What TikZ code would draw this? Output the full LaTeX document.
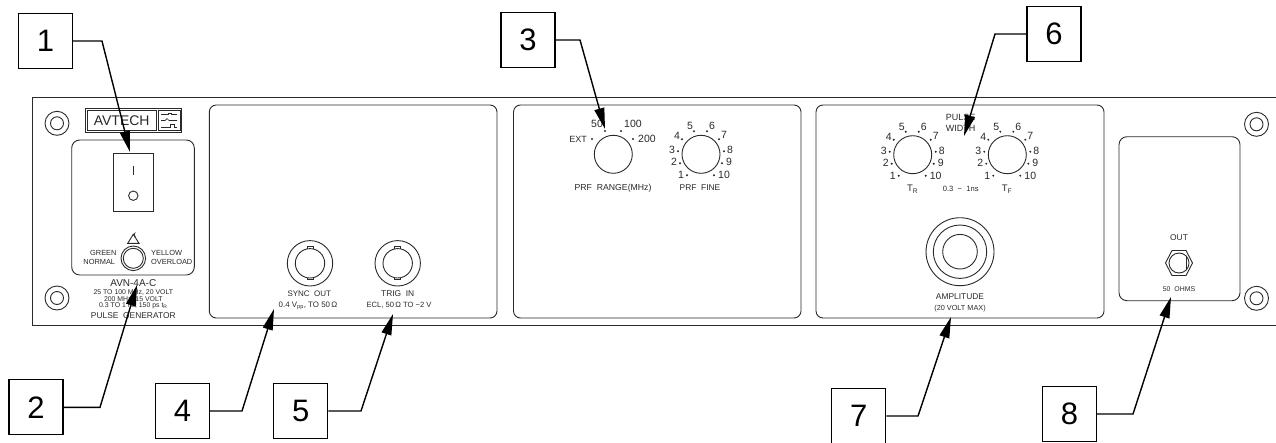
\documentclass[tikz,border=0pt]{standalone}
\usepackage{fontspec}
\setmainfont{Liberation Sans}
\usetikzlibrary{arrows.meta}
\definecolor{panel}{HTML}{2A2A2A}
\tikzset{
  x=1pt,y=-1pt,
  pl/.style={draw=panel,line width=0.9pt},
  thin panel/.style={draw=panel,line width=0.7pt},
  callout/.style={draw=black,line width=1.2pt,fill=white,minimum width=54pt,minimum height=55pt,inner sep=0pt,font=\fontsize{31}{31}\selectfont,text=black},
  lead/.style={line width=1.4pt,black,-{Triangle[length=21pt,width=10pt]}},
  tx/.style={inner sep=0pt,text=panel,font=\fontsize{8.4}{9}\selectfont},
  txm/.style={inner sep=0pt,text=panel,font=\fontsize{7.4}{9}\selectfont},
  txs/.style={inner sep=0pt,text=panel,font=\fontsize{6.9}{8}\selectfont},
  txd/.style={inner sep=0pt,text=panel,font=\fontsize{10.5}{10}\selectfont},
  tick/.style={fill=panel,draw=none},
}
\newcommand{\screwmark}[2]{\draw[pl] (#1,#2) circle[radius=12] (#1,#2) circle[radius=6.5];}
\newcommand{\dialten}[3]{%
  \draw[pl] (#2,#3) circle[radius=19];
  \foreach \n/\dx/\dy/\lx/\ly in {1/-14/21/-20/21,2/-21/9/-27/8,3/-23/-3/-29/-4,4/-19/-15/-24/-18,5/-7/-23/-11/-28,6/6/-23/11/-28,7/18/-15/23/-19,8/23/-3/29/-4,9/21/9/28/8,10/13/21/23/21}{
    \fill[tick] ({#2+\dx},{#3+\dy}) circle[radius=1.1];
    \node[txd] (#1n\n) at ({#2+\lx},{#3+\ly}) {\n};
  }}
\newcommand{\bncmark}[2]{%
  \draw[pl] (#1,#2) circle[radius=22.7] (#1,#2) circle[radius=14.7];
  \draw[thin panel] ({#1-3},{#2-14.5}) -- ({#1-3},{#2-16.5}) -- ({#1+3},{#2-16.5}) -- ({#1+3},{#2-14.5});
  \draw[thin panel] ({#1-3},{#2+14.5}) -- ({#1-3},{#2+16.5}) -- ({#1+3},{#2+16.5}) -- ({#1+3},{#2+14.5});}
\begin{document}
\begin{tikzpicture}
\clip (0,0) rectangle (1276,442);
\fill[white] (0,0) rectangle (1276,442);
% panel
\draw[pl] (1277,97.3) -- (32.7,97.3) -- (32.7,325.7) -- (1277,325.7);
\foreach \a/\b in {209.3/497,513.5/801,816/1104}{
  \draw[pl,rounded corners=7pt] (\a,105) rectangle (\b,318);}
\draw[pl,rounded corners=8pt] (1119,136.7) rectangle (1240,300.7);
\draw[pl,rounded corners=8pt] (71.7,140) rectangle (194.3,275);
\screwmark{57}{123.3}\screwmark{57}{298}\screwmark{1256.5}{124.3}\screwmark{1256.5}{298.3}
% logo
\draw[pl] (85,108.3) rectangle (181.7,132.3);
\draw[pl] (87.3,110.7) rectangle (156,130);
\draw[pl] (158.3,110.7) rectangle (180,130);
\node[inner sep=0pt,text=panel,font=\fontsize{14}{14}\selectfont] (logo) at (121.7,120.7) {AVTECH};
\draw[thin panel] (161,114.5) -- (168,114.5) -- (168,113) -- (171,113) -- (171,114.5) -- (177,114.5);
\draw[thin panel] (161,120.5) -- (165,120.5) -- (167,118.5) -- (169,120.5) -- (177,120.5);
\draw[thin panel] (161,127) -- (170,127) -- (170,124.5) -- (174,124.5) -- (174,127) -- (177,127);
% power section
\draw[pl] (113.7,153.3) rectangle (153.3,211.7);
\draw[pl] (133.3,166) -- (133.3,175);
\draw[pl] (133.3,195.7) circle[radius=4.7];
\draw[pl] (133.3,258.3) circle[radius=12.3] (133.3,258.3) circle[radius=10];
\draw[pl] (127.7,243.3) -- (133.3,234.3) -- (139,243.3) -- cycle;
\draw[thin panel] (135.5,237) arc[start angle=-60,end angle=60,radius=-2.6];
\node[txm,anchor=east] (green) at (116.7,253) {GREEN};
\node[txm,anchor=east] (normal) at (115.3,261.7) {NORMAL};
\node[txm,anchor=west] (yellow) at (151,253) {YELLOW};
\node[txm,anchor=west] (overload) at (151,261.7) {OVERLOAD};
\node[tx,font=\fontsize{10}{9}\selectfont] (model) at (133.3,283) {AVN-4A-C};
\node[txs] (specA) at (133.3,292.7) {25 TO 100 MHz, 20 VOLT};
\node[txs] (specB) at (133.3,299.3) {200 MHz, 15 VOLT};
\node[txs] (specC) at (133.3,306) {0.3 TO 1 ns, 150 ps t$_{\mathrm R}$};
\node[tx] (pg) at (133.3,316) {PULSE\ \ GENERATOR};
% BNC section
\bncmark{310}{263.3}\bncmark{397.7}{263.3}
\node[tx,font=\fontsize{8}{9}\selectfont] (sync) at (309.3,294) {SYNC\ \ OUT};
\node[txs,font=\fontsize{7.9}{8}\selectfont] (syncv) at (308,305.7) {0.4 V$_{\mathrm{pp}}$, TO 50\,Ω};
\node[tx] (trig) at (397.7,294) {TRIG\ \ IN};
\node[txs,font=\fontsize{7.6}{8}\selectfont] (trigv) at (399,305.7) {ECL, 50\,Ω TO −2 V};
% PRF section
\draw[pl] (613.3,154.3) circle[radius=19];
\foreach \x/\y in {592/139,605/131,621/131,633/139}{\fill[tick] (\x,\y) circle[radius=1.1];}
\node[txd,font=\fontsize{9}{9}\selectfont] (ext) at (578,139) {EXT};
\node[txd] (r50) at (597,124) {50};
\node[txd] (r100) at (633,124) {100};
\node[txd] (r200) at (647,139) {200};
\node[tx,font=\fontsize{8.7}{9}\selectfont] (prfr) at (613,188) {PRF\ \ RANGE(MHz)};
\dialten{fine}{701}{154.3}
\node[tx] (prff) at (700,188) {PRF\ \ FINE};
% pulse width section
\dialten{tr}{912.7}{154.7}
\dialten{tf}{1007.3}{154.7}
\node[tx,font=\fontsize{9}{9}\selectfont] (pulse) at (960.7,117) {PULSE};
\node[tx,font=\fontsize{9}{9}\selectfont] (width) at (960.7,128) {WIDTH};
\node[tx,font=\fontsize{9.5}{9}\selectfont] (trl) at (912.7,189) {T$_{\mathrm R}$};
\node[tx,font=\fontsize{9.5}{9}\selectfont] (tfl) at (1007,189) {T$_{\mathrm F}$};
\node[txs,font=\fontsize{7.6}{8}\selectfont] (rng) at (960.7,189) {0.3\ \ −\ \ 1ns};
\draw[pl] (960,251.7) circle[radius=34] (960,251.7) circle[radius=26.7] (960,251.7) circle[radius=17.3];
\node[tx] (amp) at (960,297) {AMPLITUDE};
\node[txs,font=\fontsize{7.3}{8}\selectfont] (ampv) at (960,309) {(20 VOLT MAX)};
% out section
\node[tx] (outl) at (1179,238) {OUT};
\draw[pl] (1165.5,263) -- (1172,250.5) -- (1186,250.5) -- (1192.5,263) -- (1186,275.5) -- (1172,275.5) -- cycle;
\draw[pl] (1179,263) circle[radius=10];
\draw[thin panel] (1186.5,256.5) -- (1186.5,269.5);
\node[txs] (ohms) at (1179,289) {50\ \ OHMS};
% callouts
\node[callout] (c1) at (45.5,41) {1};
\node[callout] (c2) at (36,407.3) {2};
\node[callout] (c3) at (528,40) {3};
\node[callout] (c4) at (182.5,411) {4};
\node[callout] (c5) at (300.7,411) {5};
\node[callout] (c6) at (1054,34) {6};
\node[callout] (c7) at (858.8,416) {7};
\node[callout] (c8) at (1069.5,414) {8};
\coordinate (e1) at (102,41);\coordinate (t1) at (130,152);
\coordinate (e2) at (100,407.3);\coordinate (t2) at (137,285);
\coordinate (e3) at (580,40);\coordinate (t3) at (605,129);
\coordinate (e4) at (242,411);\coordinate (t4) at (274,309);
\coordinate (e5) at (361,411);\coordinate (t5) at (393,314);
\coordinate (e6) at (995,34);\coordinate (t6) at (964,136);
\coordinate (e7) at (918,416);\coordinate (t7) at (951,317);
\coordinate (e8) at (1133,414);\coordinate (t8) at (1171,297);
\foreach \i/\s in {1/east,2/east,3/east,4/east,5/east,6/west,7/east,8/east}{\draw[lead] (c\i.\s) -- (e\i) -- (t\i);}
\end{tikzpicture}
\end{document}
